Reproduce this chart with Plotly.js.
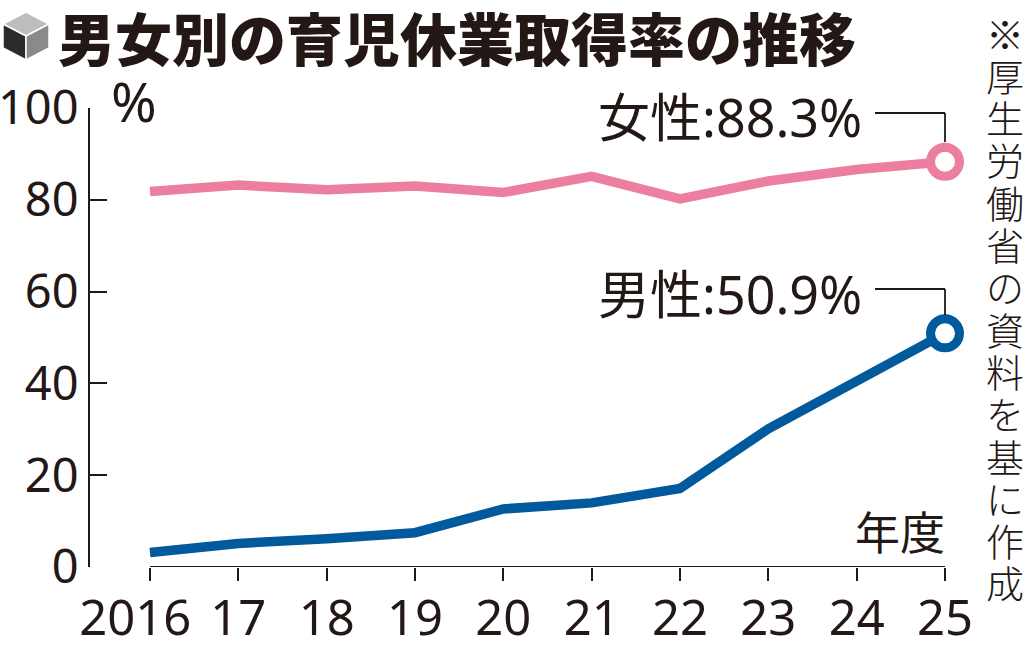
<!DOCTYPE html>
<html>
<head>
<meta charset="utf-8">
<script src="https://cdn.plot.ly/plotly-3.0.1.min.js"></script>
<style>
  html, body { margin: 0; padding: 0; background: #fff; }
  #chart { width: 1034px; height: 645px; }
</style>
</head>
<body>
<div id="chart"></div>
<script>
var years = [2016, 2017, 2018, 2019, 2020, 2021, 2022, 2023, 2024, 2025];
// the first label sits a bit left of its tick in the original, hence the trailing spaces
var year_labels = ['2016\u2002\u200A', '17', '18', '19', '20', '21', '22', '23', '24', '25'];
var female = [81.8, 83.2, 82.2, 83.0, 81.6, 85.1, 80.2, 84.1, 86.6, 88.3];
var male = [3.16, 5.14, 6.16, 7.48, 12.65, 13.97, 17.13, 30.1, 40.5, 50.9];
var y_ticks = [0, 20, 40, 60, 80, 100];

var ink = '#231815';
var pink = '#ec7fa0';
var blue = '#005a9c';
var num_font = '"Noto Sans", "Noto Sans CJK JP", sans-serif';
var cjk_font = '"Noto Sans CJK JP", sans-serif';

// page pixels -> paper coords
var W = 1034, H = 645, L = 90, R = 74, T = 108, B = 78;
function px(x) { return (x - L) / (W - L - R); }
function py(y) { return (H - B - y) / (H - T - B); }

var last = years.length - 1;

var female_line = {
    x: years, y: female, type: 'scatter', mode: 'lines',
    line: {color: pink, width: 9.5}, hoverinfo: 'skip'
};
var male_line = {
    x: years, y: male, type: 'scatter', mode: 'lines',
    line: {color: blue, width: 9.5}, hoverinfo: 'skip'
};
var female_end = {
    x: [years[last]], y: [female[last]], type: 'scatter', mode: 'markers',
    marker: {size: 29, color: '#fff', line: {color: pink, width: 9}}, cliponaxis: false
};
var male_end = {
    x: [years[last]], y: [male[last]], type: 'scatter', mode: 'markers',
    marker: {size: 29, color: '#fff', line: {color: blue, width: 9}}, cliponaxis: false
};

function seg(x0, y0, x1, y1) {
    return {type: 'line', xref: 'paper', yref: 'paper',
        x0: px(x0), y0: py(y0), x1: px(x1), y1: py(y1),
        line: {color: ink, width: 1.8}};
}
function face(pts, color) {
    var d = 'M' + pts.map(function (p) { return px(p[0]) + ',' + py(p[1]); }).join(' L') + ' Z';
    return {type: 'path', xref: 'paper', yref: 'paper', path: d,
        fillcolor: color, line: {color: '#fff', width: 1.5}, layer: 'above'};
}

var shapes = [
    // x axis base line, only between first and last year
    {type: 'line', xref: 'x', yref: 'y', x0: years[0], x1: years[last], y0: 0, y1: 0,
        line: {color: ink, width: 2}},
    // leader lines
    seg(875, 113, 945, 113), seg(945, 113, 945, 142),
    seg(875, 289, 945, 289), seg(945, 289, 945, 315),
    // cube icon
    face([[26, 12], [49, 24], [26, 36], [3, 24]], '#bdbdbd'),
    face([[3, 24], [26, 36], [26, 60], [3, 48]], '#2b2b2b'),
    face([[26, 36], [49, 24], [49, 48], [26, 60]], '#8a8a8a')
];

var annotations = [
    {text: '男女別の育児休業取得率の推移', xref: 'paper', yref: 'paper', x: px(56), y: py(36),
        xanchor: 'left', yanchor: 'middle', showarrow: false,
        font: {family: cjk_font, size: 57, weight: 900, color: ink}},
    {text: '%', xref: 'paper', yref: 'paper', x: px(109), y: py(101),
        xanchor: 'left', yanchor: 'middle', showarrow: false,
        font: {family: num_font, size: 55, color: ink}},
    {text: '女性:88.3%', xref: 'paper', yref: 'paper', x: px(864), y: py(116),
        xanchor: 'right', yanchor: 'middle', showarrow: false,
        font: {family: num_font, size: 52, color: ink}},
    {text: '男性:50.9%', xref: 'paper', yref: 'paper', x: px(864), y: py(293),
        xanchor: 'right', yanchor: 'middle', showarrow: false,
        font: {family: num_font, size: 52, color: ink}},
    {text: '年度', xref: 'paper', yref: 'paper', x: px(947), y: py(530),
        xanchor: 'right', yanchor: 'middle', showarrow: false,
        font: {family: cjk_font, size: 45, color: ink}}
];

// vertical source note, one character per annotation
'※厚生労働省の資料を基に作成'.split('').forEach(function (ch, i) {
    annotations.push({text: ch, xref: 'paper', yref: 'paper', x: px(1005), y: py(32 + i * 42.3),
        xanchor: 'center', yanchor: 'middle', showarrow: false,
        font: {family: cjk_font, size: 38, weight: 300, color: ink}});
});

var layout = {
    width: W, height: H,
    margin: {l: L, r: R, t: T, b: B, pad: 0},
    paper_bgcolor: '#fff', plot_bgcolor: '#fff',
    showlegend: false,
    xaxis: {
        range: [2016 - 60 / 88.33, 2025 + 15 / 88.33],
        tickvals: years, ticktext: year_labels, tickangle: 0,
        ticks: 'outside', ticklen: 13, tickwidth: 2, tickcolor: ink,
        ticklabelstandoff: -5,
        showline: false, showgrid: false, zeroline: false,
        tickfont: {family: num_font, size: 49, color: ink},
        fixedrange: true
    },
    yaxis: {
        range: [0, 100],
        tickvals: y_ticks,
        ticks: 'inside', ticklen: 17, tickwidth: 2, tickcolor: ink,
        showline: true, linecolor: ink, linewidth: 2,
        showgrid: false, zeroline: false,
        tickfont: {family: num_font, size: 47, color: ink},
        fixedrange: true
    },
    shapes: shapes,
    annotations: annotations
};

Plotly.newPlot('chart', [female_line, male_line, female_end, male_end], layout,
    {displayModeBar: false, staticPlot: true});
</script>
</body>
</html>
